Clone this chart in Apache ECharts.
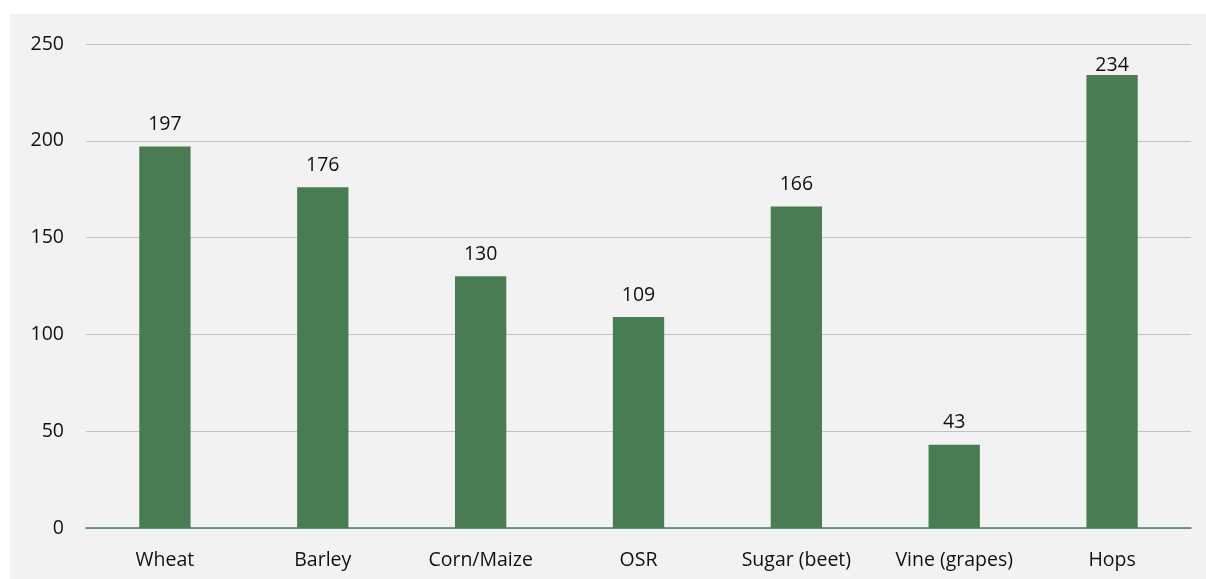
<!DOCTYPE html>
<html>
<head>
<meta charset="utf-8">
<script src="https://cdn.jsdelivr.net/npm/echarts@6/dist/echarts.min.js"></script>
<style>
html,body{margin:0;padding:0;background:#fff;width:1206px;height:579px;overflow:hidden;}
#bg{position:absolute;left:10px;top:14px;width:1196px;height:565px;background:#f2f2f2;}
#chart{width:1196px;height:565px;}
</style>
</head>
<body>
<div id="bg"><div id="chart"></div></div>
<script>
const categories = ["Wheat", "Barley", "Corn/Maize", "OSR", "Sugar (beet)", "Vine (grapes)", "Hops"];
const values = [197, 176, 130, 109, 166, 43, 234];
const yTicks = [0, 50, 100, 150, 200, 250];

const CHART_H = 565, GRID_TOP = 30, GRID_BOTTOM = 51;
const yMax = yTicks[yTicks.length - 1];
const pxPerUnit = (CHART_H - GRID_TOP - GRID_BOTTOM) / yMax;
const LABEL_H = 27, LABEL_GAP = 12;
// keep value labels inside the plot area (as the source chart does)
const seriesData = values.map(v => {
  const room = (yMax - v) * pxPerUnit;
  const d = Math.min(LABEL_GAP, Math.max(0, room - LABEL_H - 4));
  return { value: v, label: { distance: d } };
});

const chart = echarts.init(document.getElementById('chart'));
const font = '"Open Sans", "Liberation Sans", sans-serif';
chart.setOption({
  backgroundColor: 'transparent',
  animation: false,
  grid: { left: 76, right: 15, top: GRID_TOP, bottom: GRID_BOTTOM, containLabel: false },
  xAxis: {
    type: 'category',
    data: categories,
    axisLine: { show: true, lineStyle: { color: '#4a7c54', width: 1.5 } },
    axisTick: { show: false },
    axisLabel: { color: '#111', fontSize: 19.5, fontFamily: font, margin: 22 }
  },
  yAxis: {
    type: 'value',
    min: yTicks[0],
    max: yMax,
    interval: 50,
    axisLine: { show: false },
    axisTick: { show: false },
    splitLine: { lineStyle: { color: '#b3c9bc', width: 1.2 } },
    axisLabel: { color: '#111', fontSize: 19.5, fontFamily: font, margin: 22 }
  },
  series: [{
    type: 'bar',
    data: seriesData,
    barWidth: '32.5%',
    itemStyle: { color: '#4a7c54' },
    label: { show: true, position: 'top', distance: LABEL_GAP, color: '#111', fontSize: 19.5, fontFamily: font }
  }]
});
</script>
</body>
</html>
